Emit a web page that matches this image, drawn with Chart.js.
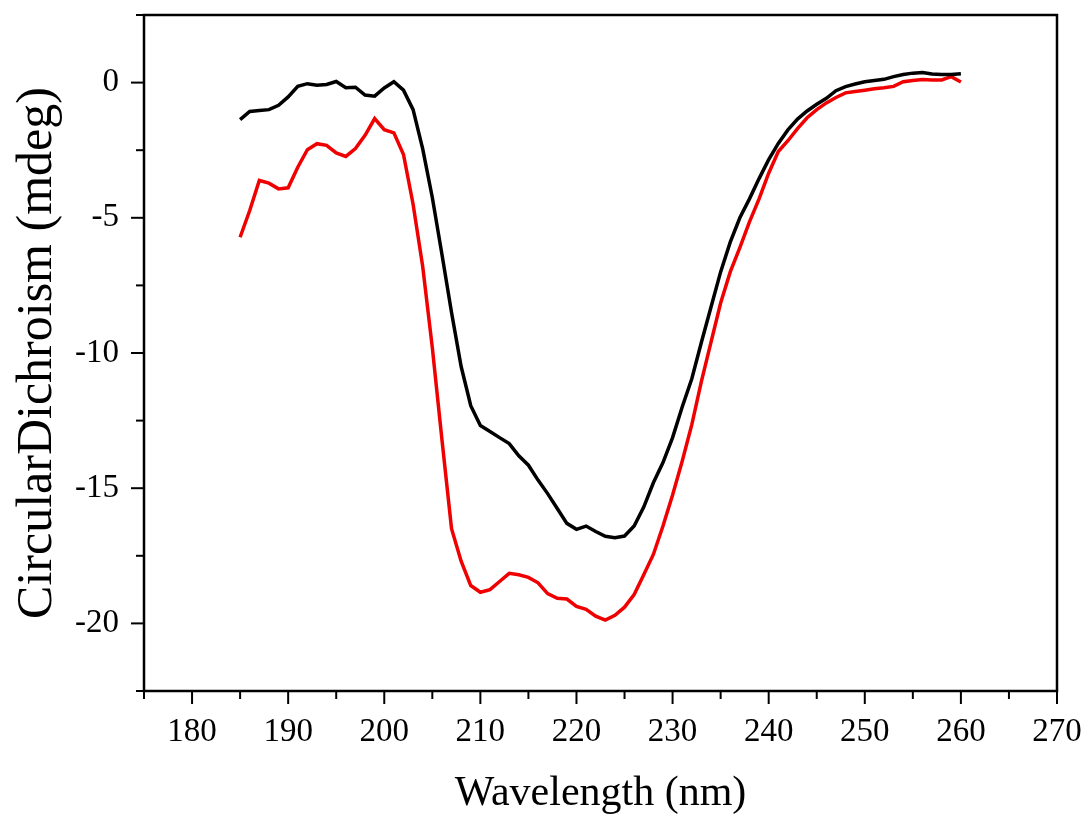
<!DOCTYPE html>
<html>
<head>
<meta charset="utf-8">
<script src="https://cdn.jsdelivr.net/npm/chart.js@4"></script>
<style>
  body { margin: 0; background: #fff; }
  canvas { display: block; }
</style>
</head>
<body>
<canvas id="myChart" width="1089" height="819"></canvas>
<script>
const wavelengths = [];
for (let nm = 185; nm <= 260; nm++) wavelengths.push(nm);

const blackCD = [
  -1.37, -1.07, -1.03, -1.0, -0.84, -0.53, -0.14, -0.04, -0.1, -0.07,
  0.04, -0.19, -0.17, -0.46, -0.5, -0.2, 0.03, -0.28, -1.0, -2.45,
  -4.25, -6.35, -8.5, -10.5, -11.95, -12.68, -12.9, -13.13, -13.35, -13.8,
  -14.15, -14.7, -15.2, -15.75, -16.3, -16.52, -16.4, -16.6, -16.78, -16.83,
  -16.77, -16.4, -15.7, -14.8, -14.05, -13.13, -12.0, -10.95, -9.6, -8.3,
  -7.0, -5.9, -5.0, -4.3, -3.55, -2.85, -2.25, -1.75, -1.35, -1.05,
  -0.8, -0.58, -0.3, -0.15, -0.05, 0.03, 0.08, 0.12, 0.22, 0.3,
  0.35, 0.37, 0.32, 0.3, 0.3, 0.33
];

const redCD = [
  -5.72, -4.73, -3.62, -3.72, -3.93, -3.89, -3.13, -2.48, -2.26, -2.32,
  -2.6, -2.73, -2.44, -1.95, -1.33, -1.74, -1.86, -2.66, -4.5, -6.8,
  -9.8, -13.2, -16.5, -17.7, -18.6, -18.85, -18.75, -18.45, -18.15, -18.2,
  -18.3, -18.5, -18.9, -19.07, -19.1, -19.37, -19.48, -19.73, -19.88, -19.7,
  -19.4, -18.93, -18.2, -17.45, -16.4, -15.25, -14.0, -12.65, -11.05, -9.6,
  -8.15, -7.0, -6.1, -5.15, -4.3, -3.35, -2.55, -2.15, -1.7, -1.3,
  -1.0, -0.75, -0.55, -0.38, -0.33, -0.28, -0.23, -0.19, -0.14, 0.03,
  0.08, 0.11, 0.1, 0.1, 0.22, 0.02
];

const xLabelTicks = [180, 190, 200, 210, 220, 230, 240, 250, 260, 270];
const yLabelTicks = [0, -5, -10, -15, -20];

const toPoints = vals => vals.map((v, i) => ({ x: wavelengths[i], y: v }));

// frame + outward tick marks like the Origin plot
const framePlugin = {
  id: "frame",
  afterDraw(chart) {
    const { ctx, chartArea: a, scales } = chart;
    ctx.save();
    ctx.strokeStyle = "#000";
    ctx.lineWidth = 2.5;
    ctx.strokeRect(a.left, a.top, a.right - a.left, a.bottom - a.top);
    ctx.lineWidth = 2;
    scales.x.ticks.forEach(t => {
      const px = scales.x.getPixelForValue(t.value);
      const len = t.value % 10 === 0 ? 13 : 8;
      ctx.beginPath();
      ctx.moveTo(px, a.bottom);
      ctx.lineTo(px, a.bottom + len);
      ctx.stroke();
    });
    scales.y.ticks.forEach(t => {
      const py = scales.y.getPixelForValue(t.value);
      const len = Math.abs(t.value % 5) < 1e-6 ? 13 : 8;
      ctx.beginPath();
      ctx.moveTo(a.left, py);
      ctx.lineTo(a.left - len, py);
      ctx.stroke();
    });
    ctx.restore();
  }
};

const ctx = document.getElementById("myChart").getContext("2d");
const chart = new Chart(ctx, {
  type: "line",
  data: {
    datasets: [
      {
        label: "black",
        data: toPoints(blackCD),
        borderColor: "#000000",
        borderWidth: 3.5,
        pointRadius: 0,
        tension: 0
      },
      {
        label: "red",
        data: toPoints(redCD),
        borderColor: "rgb(240, 0, 0)",
        borderWidth: 3.5,
        pointRadius: 0,
        tension: 0
      }
    ]
  },
  options: {
    responsive: false,
    animation: false,
    layout: { padding: { top: 15, right: 32, left: 0, bottom: 0 } },
    plugins: { legend: { display: false }, tooltip: { enabled: false } },
    scales: {
      x: {
        type: "linear",
        min: 175,
        max: 270,
        afterFit: s => {
          s.height = 128;
          s.paddingLeft = 0;
          s.paddingRight = 0;
        },
        grid: { display: false, drawTicks: false },
        border: { display: false },
        ticks: {
          stepSize: 5,
          autoSkip: false,
          maxRotation: 0,
          padding: 22,
          color: "#000",
          font: { family: "Liberation Serif", size: 33 },
          callback: v => (xLabelTicks.includes(v) ? String(v) : "")
        },
        title: {
          display: true,
          text: "Wavelength (nm)",
          color: "#000",
          font: { family: "Liberation Serif", size: 42, lineHeight: 1.2 },
          padding: { top: 0, bottom: 0 }
        }
      },
      y: {
        min: -22.5,
        max: 2.5,
        afterFit: s => {
          s.width = 144;
          s.paddingTop = 0;
          s.paddingBottom = 0;
        },
        grid: { display: false, drawTicks: false },
        border: { display: false },
        ticks: {
          stepSize: 2.5,
          autoSkip: false,
          padding: 25,
          color: "#000",
          font: { family: "Liberation Serif", size: 33 },
          callback: v => (yLabelTicks.some(t => Math.abs(t - v) < 1e-6) ? String(v) : "")
        },
        title: {
          display: true,
          text: "CircularDichroism (mdeg)",
          color: "#000",
          font: { family: "Liberation Serif", size: 50, lineHeight: 1.2 },
          padding: { top: 8, bottom: 0 }
        }
      }
    }
  },
  plugins: [framePlugin]
});
</script>
</body>
</html>
